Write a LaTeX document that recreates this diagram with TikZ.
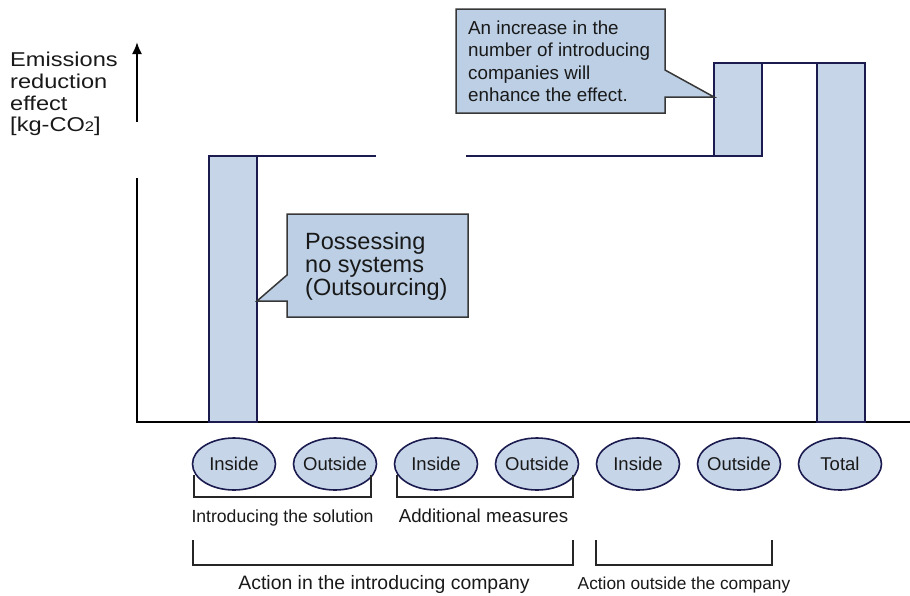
\documentclass[tikz,border=0pt]{standalone}
\usepackage{fontspec}
\setmainfont{Liberation Sans}
\newfontfamily\widesans[FakeStretch=1.18]{Liberation Sans}
\usetikzlibrary{shapes.geometric,arrows.meta}
\definecolor{navy}{RGB}{27,27,80}
\definecolor{barfill}{RGB}{198,213,231}
\definecolor{callfill}{RGB}{188,207,228}
\definecolor{callline}{RGB}{55,55,55}
\definecolor{txt}{RGB}{25,25,25}
\newcommand\ctext[1]{\makebox[0pt]{#1}}
\begin{document}
\begin{tikzpicture}[x=1pt,y=-1pt,
  bar/.style={rectangle,draw=navy,fill=barfill,line width=2pt,inner sep=0pt,outer sep=0pt,anchor=north west,minimum width=48pt},
  level/.style={draw=navy,line width=2pt},
  axis/.style={draw=black,line width=2pt},
  callout/.style={draw=callline,fill=callfill,line width=1.5pt,line join=miter},
  cat/.style={ellipse,draw=navy,fill=barfill,line width=1.6pt,minimum width=83pt,minimum height=52pt,inner sep=0pt,text=txt,font=\fontsize{18.5}{20}\selectfont},
  brace/.style={draw=black!85,line width=1.5pt},
  lbl/.style={inner sep=0pt,anchor=base,text=txt},
  multi/.style={anchor=base west,align=left,inner sep=0pt,text=txt}
]
\useasboundingbox (0,0) rectangle (910,595);

% axes
\coordinate (origin) at (137,422);
\coordinate (xend) at (910,422);
\coordinate (ybreakA) at (137,178);
\coordinate (ybreakB) at (137,122);
\coordinate (ytop) at (137,42);
\draw[axis] (ybreakA) -- (origin) -- (xend);
\draw[axis,-{Latex[length=12pt,width=10pt]}] (ybreakB) -- (ytop);

% anchor = baseline of the last line
\node[multi,font=\widesans\fontsize{20}{21.7}\selectfont] (ylabel) at (10,131.8)
  {Emissions\\reduction\\effect\\{[}kg-CO{\fontsize{14}{14}\selectfont 2}{]}};

% bars
\node[bar,minimum height=266pt] (bar1) at (209,156) {};
\node[bar,minimum height=93pt] (bar2) at (714,63) {};
\node[bar,minimum height=359pt] (bar3) at (817,63) {};

% level lines
\coordinate (gapL) at (376,156);
\coordinate (gapR) at (466,156);
\draw[level] (bar1.north east) -- (gapL);
\draw[level] (gapR) -- (bar2.south west);
\draw[level] (bar2.north east) -- (bar3.north west);

% callout 1
\draw[callout] (287,214) -- (468,214) -- (468,317) -- (287,317) -- (287,301) -- (bar1.east |- 0,301) -- (287,275) -- cycle;
\node[multi,font=\fontsize{23.5}{23.2}\selectfont] (note1) at (305,295.8)
  {Possessing\\no systems\\(Outsourcing)};

% callout 2
\draw[callout] (456,9) -- (665,9) -- (665,70) -- (bar2.west |- 0,97) -- (665,97) -- (665,113) -- (456,113) -- cycle;
\node[multi,font=\fontsize{18.8}{22.5}\selectfont] (note2) at (468,101.8)
  {An increase in the\\number of introducing\\companies will\\enhance the effect.};

% categories
\node[cat] (in1) at (234,464) {\ctext{Inside}};
\node[cat] (out1) at (335,464) {\ctext{Outside}};
\node[cat] (in2) at (436,464) {\ctext{Inside}};
\node[cat] (out2) at (537,464) {\ctext{Outside}};
\node[cat] (in3) at (638,464) {\ctext{Inside}};
\node[cat] (out3) at (739,464) {\ctext{Outside}};
\node[cat] (total) at (840,464) {\ctext{Total}};

% brackets
\coordinate (b1a) at (194,475); \coordinate (b1b) at (371,475);
\coordinate (b2a) at (397,475); \coordinate (b2b) at (573,475);
\coordinate (b3a) at (193,540); \coordinate (b3b) at (573,540);
\coordinate (b4a) at (596,540); \coordinate (b4b) at (772,540);
\draw[brace] (b1a) -- ++(0,22) -| (b1b);
\draw[brace] (b2a) -- ++(0,22) -| (b2b);
\draw[brace] (b3a) -- ++(0,25) -| (b3b);
\draw[brace] (b4a) -- ++(0,25) -| (b4b);

\node[lbl,font=\fontsize{17.6}{20}\selectfont] (lab1) at (282.5,522.7) {Introducing the solution};
\node[lbl,font=\fontsize{18.7}{20}\selectfont] (lab2) at (483.5,522.7) {Additional measures};
\node[lbl,font=\fontsize{19.4}{20}\selectfont] (lab3) at (384,589.3) {Action in the introducing company};
\node[lbl,font=\fontsize{17.3}{20}\selectfont] (lab4) at (684,589.3) {Action outside the company};
\end{tikzpicture}
\end{document}
